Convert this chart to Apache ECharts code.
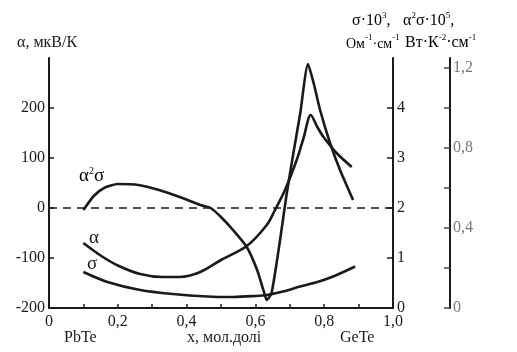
<!DOCTYPE html>
<html>
<head>
<meta charset="utf-8">
<script src="https://cdn.jsdelivr.net/npm/echarts@6/dist/echarts.min.js"></script>
<style>
html,body{margin:0;padding:0;background:#fff;}
#c{width:517px;height:352px;}
</style>
</head>
<body>
<div id="c"></div>
<script>
// x, mole fraction GeTe
const alphaX = [0.1, 0.15, 0.2, 0.265, 0.33, 0.38, 0.44, 0.5, 0.575, 0.633, 0.657, 0.686, 0.72, 0.74, 0.761, 0.78, 0.797, 0.836, 0.88];
// Seebeck coefficient, μV/K
const alphaY = [-70, -95, -115, -132, -138, -138, -128, -104, -76, -34, -4, 36, 96, 140, 186, 162, 143, 110, 82];

const sigmaX = [0.1, 0.17, 0.265, 0.36, 0.46, 0.536, 0.6, 0.633, 0.68, 0.73, 0.78, 0.826, 0.89];
// conductivity ×10^3, Ohm^-1 cm^-1
const sigmaY = [0.72, 0.52, 0.36, 0.28, 0.23, 0.22, 0.24, 0.26, 0.33, 0.43, 0.52, 0.63, 0.83];

const pfX = [0.1, 0.13, 0.16, 0.2, 0.26, 0.32, 0.38, 0.44, 0.47, 0.5, 0.535, 0.575, 0.605, 0.625, 0.633, 0.647, 0.67, 0.69, 0.71, 0.73, 0.753, 0.77, 0.788, 0.817, 0.846, 0.884];
// power factor α²σ ×10^5, W·K^-2·cm^-1
const pfY = [0.49, 0.56, 0.60, 0.62, 0.615, 0.59, 0.555, 0.515, 0.50, 0.455, 0.39, 0.305, 0.19, 0.08, 0.04, 0.075, 0.32, 0.56, 0.77, 0.97, 1.22, 1.12, 0.99, 0.825, 0.69, 0.54];

const refLineX = [0, 1];
const refLineY = [0, 0];

const xTicks = [0, 0.1, 0.2, 0.3, 0.4, 0.5, 0.6, 0.7, 0.8, 0.9, 1.0];
const alphaTicks = [-200, -100, 0, 100, 200];
const sigmaTicks = [0, 1, 2, 3, 4];
const pfTicks = [0, 0.2, 0.4, 0.6, 0.8, 1.0, 1.2];
const pfLabels = [0, 0.4, 0.8, 1.2];

const zip = (xs, ys) => xs.map((x, i) => [x, ys[i]]);
const comma = v => (v === 0 ? '0' : v.toFixed(1).replace('.', ','));
const FONT = '"Liberation Serif", "DejaVu Serif", serif';
const INK = '#1a1a1a';

const chart = echarts.init(document.getElementById('c'));
const lineStyle = { color: INK, width: 2.6 };
const supRich = (size) => ({
  b: { fontSize: size, fontFamily: FONT, color: INK, lineHeight: 18, verticalAlign: 'bottom' },
  s: { fontSize: 9, fontFamily: FONT, color: INK, lineHeight: 18, verticalAlign: 'top' }
});

chart.setOption({
  backgroundColor: '#fff',
  animation: false,
  textStyle: { fontFamily: FONT },
  grid: { left: 49, top: 58, width: 344, height: 250, containLabel: false },
  xAxis: {
    type: 'value', min: 0, max: 1, interval: 0.1,
    axisLine: { onZero: false, lineStyle: { color: INK, width: 2 } },
    axisTick: { inside: true, length: 4, customValues: xTicks, lineStyle: { color: INK, width: 1.5 } },
    axisLabel: {
      color: INK, fontSize: 16, fontFamily: FONT, margin: 6,
      formatter: v => (Math.round(v * 10) % 2 === 0 ? comma(v) : '')
    },
    splitLine: { show: false }
  },
  yAxis: [
    {
      type: 'value', position: 'left', min: -200, max: 300, interval: 100,
      axisLine: { show: true, onZero: false, lineStyle: { color: INK, width: 2 } },
      axisTick: { show: true, inside: true, length: 5, customValues: alphaTicks, lineStyle: { color: INK, width: 1.5 } },
      axisLabel: { color: INK, fontSize: 16, fontFamily: FONT, margin: 4, customValues: alphaTicks },
      splitLine: { show: false }
    },
    {
      type: 'value', position: 'right', min: 0, max: 5, interval: 1,
      axisLine: { show: true, onZero: false, lineStyle: { color: INK, width: 2 } },
      axisTick: { show: true, inside: true, length: 6, customValues: sigmaTicks, lineStyle: { color: INK, width: 1.5 } },
      axisLabel: { color: INK, fontSize: 16, fontFamily: FONT, margin: 4, customValues: sigmaTicks },
      splitLine: { show: false }
    },
    {
      type: 'value', position: 'right', offset: 57, min: 0, max: 1.25,
      axisLine: { show: true, onZero: false, lineStyle: { color: INK, width: 2 } },
      axisTick: { show: true, inside: true, length: 6, customValues: pfTicks, lineStyle: { color: '#444', width: 1.5 } },
      axisLabel: { color: '#777', fontSize: 16, fontFamily: FONT, margin: 3, customValues: pfLabels, formatter: v => comma(v) },
      splitLine: { show: false }
    }
  ],
  series: [
    {
      name: 'zero', type: 'line', yAxisIndex: 0, data: zip(refLineX, refLineY),
      showSymbol: false, silent: true,
      lineStyle: { color: INK, type: [8, 6], width: 1.6 }
    },
    {
      name: 'α', type: 'line', yAxisIndex: 0, data: zip(alphaX, alphaY),
      smooth: 0.3, showSymbol: false, lineStyle
    },
    {
      name: 'σ', type: 'line', yAxisIndex: 1, data: zip(sigmaX, sigmaY),
      smooth: 0.3, showSymbol: false, lineStyle
    },
    {
      name: 'α²σ', type: 'line', yAxisIndex: 2, data: zip(pfX, pfY),
      smooth: 0.2, showSymbol: false, lineStyle
    }
  ],
  graphic: [
    { type: 'text', left: 17, top: 35, style: { text: 'α, мкВ/К', font: '16px ' + FONT, fill: INK } },
    { type: 'text', left: 352, top: 11, style: { text: '{b|σ·10}{s|3}{b|,}', rich: supRich(16) } },
    { type: 'text', left: 346, top: 33, style: { text: '{b|Ом}{s|-1}{b|·см}{s|-1}', rich: supRich(14) } },
    { type: 'text', left: 403, top: 11, style: { text: '{b|α}{s|2}{b|σ·10}{s|5}{b|,}', rich: supRich(16) } },
    { type: 'text', left: 405, top: 33, style: { text: '{b|Вт·К}{s|-2}{b|·см}{s|-1}', rich: supRich(16) } },
    { type: 'text', left: 79, top: 166, style: { text: '{b|α}{s|2}{b|σ}', rich: {
      b: { fontSize: 19, fontFamily: FONT, color: INK, lineHeight: 20, verticalAlign: 'bottom' },
      s: { fontSize: 10, fontFamily: FONT, color: INK, lineHeight: 20, verticalAlign: 'top' } } } },
    { type: 'text', left: 89, top: 229, style: { text: 'α', font: '19px ' + FONT, fill: INK } },
    { type: 'text', left: 87, top: 255, style: { text: 'σ', font: '19px ' + FONT, fill: INK } },
    { type: 'text', left: 64, top: 330, style: { text: 'PbTe', font: '16px ' + FONT, fill: INK } },
    { type: 'text', left: 187, top: 330, style: { text: 'x, мол.долі', font: '16px ' + FONT, fill: INK } },
    { type: 'text', left: 340, top: 330, style: { text: 'GeTe', font: '16px ' + FONT, fill: INK } }
  ]
});
</script>
</body>
</html>
